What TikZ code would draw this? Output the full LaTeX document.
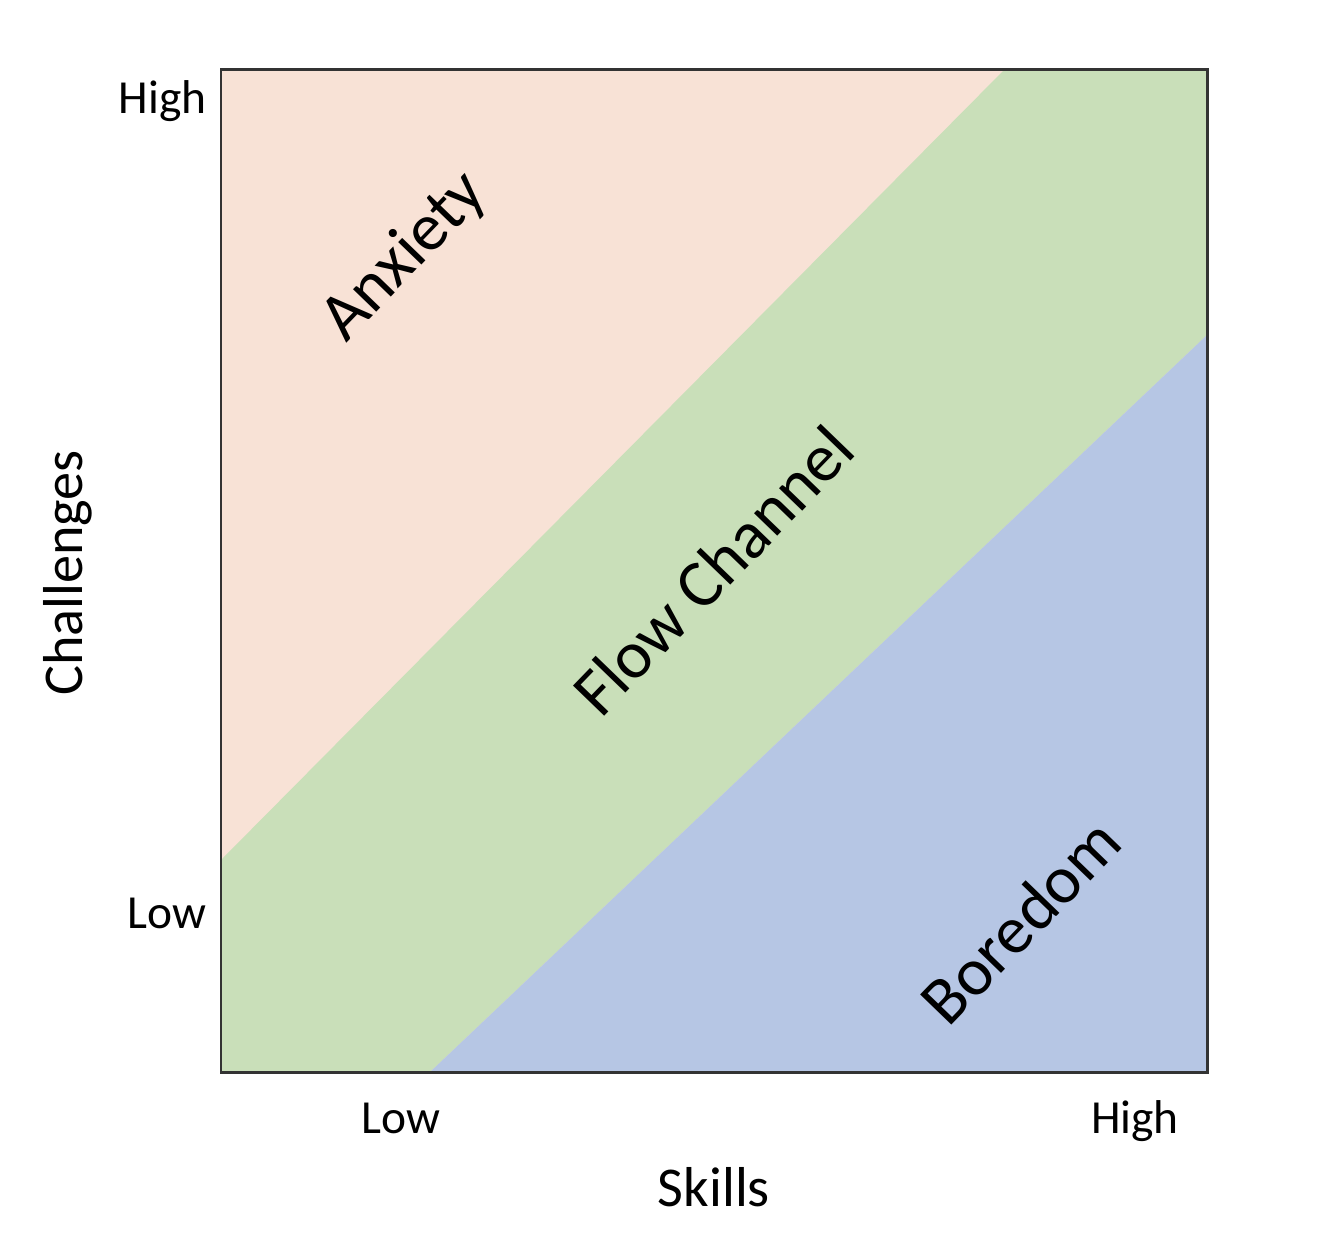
\documentclass[tikz,border=0pt]{standalone}
\usepackage{fontspec}
\setmainfont{Carlito}
\definecolor{anxietycol}{HTML}{F8E2D6}
\definecolor{flowcol}{HTML}{C9DFB9}
\definecolor{boredcol}{HTML}{B6C6E4}
\definecolor{framecol}{HTML}{333333}
\tikzset{
  ticklbl/.style={font=\fontsize{27}{30}\selectfont,inner sep=0pt},
  axislbl/.style={font=\fontsize{32}{36}\selectfont,inner sep=0pt},
  zonelbl/.style={font=\fontsize{38.5}{42}\selectfont,rotate=46,inner sep=0pt}
}
\begin{document}
\begin{tikzpicture}[x=0.02cm,y=-0.02cm]
        \useasboundingbox(0,0) rectangle(1322,1232);
        %ansia
        \fill[anxietycol](221,69) rectangle(1207,1072);
        %canale
        \fill[flowcol](221,860) -- (1005,69) -- (1207,69) -- (1207,335)
          -- (430,1072) -- (221,1072) -- cycle;
        %noia
        \fill[boredcol](430,1072) -- (1207,335) -- (1207,1072) -- cycle;
        %cornice
        \draw[framecol,line width=1.7pt](221,69) rectangle(1207,1072);
        %etichette
        \node[ticklbl,anchor=base east] (chigh) at (207,113) {High};
        \node[ticklbl,anchor=base east] (clow) at (207,928) {Low};
        \node[ticklbl,anchor=base] (slow) at (401,1133) {Low};
        \node[ticklbl,anchor=base] (shigh) at (1135,1133) {High};
        \node[axislbl,anchor=base] (skills) at (714,1206) {Skills};
        \node[axislbl,anchor=base,rotate=90] (chall) at (82,573) {Challenges};
        \node[zonelbl] (anxiety) at (405,257) {Anxiety};
        \node[zonelbl] (flow) at (713,570) {Flow Channel};
        \node[zonelbl] (boredom) at (1020,921) {Boredom};
    \end{tikzpicture}
\end{document}
